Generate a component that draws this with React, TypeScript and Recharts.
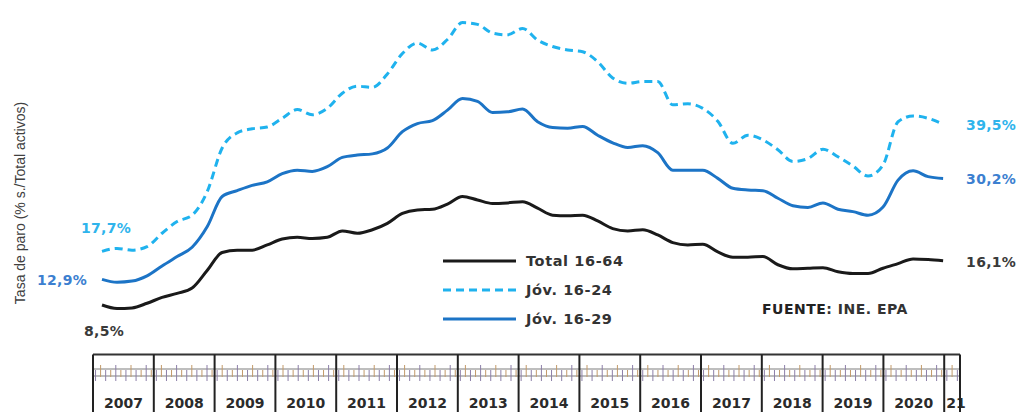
import React from 'react'
import { LineChart, Line, XAxis, YAxis, LabelList } from 'recharts'

// años del eje (el último tramo, 2021, sólo tiene el primer trimestre)
const YEARS = ['2007', '2008', '2009', '2010', '2011', '2012', '2013', '2014', '2015', '2016', '2017', '2018', '2019', '2020', '21']
const QUARTERS = ['T1', 'T2', 'T3', 'T4']

// tasa de paro (% s./total activos), 2007T1 - 2021T1
const TOTAL_16_64 = [
  8.5, 7.9, 8.0, 8.8, 9.8, 10.5, 11.4, 14.4, 17.5, 17.9, 17.9, 18.8, 19.8, 20.1, 19.9, 20.1,
  21.2, 20.8, 21.4, 22.5, 24.2, 24.8, 24.9, 25.8, 27.1, 26.5, 25.9, 26.0, 26.2, 25.1, 23.9, 23.8,
  23.9, 22.9, 21.6, 21.2, 21.4, 20.5, 19.2, 18.8, 18.9, 17.6, 16.7, 16.7, 16.8, 15.4, 14.7, 14.8,
  14.9, 14.2, 13.9, 13.9, 14.8, 15.6, 16.4, 16.3, 16.1
]
const JOV_16_24 = [
  17.7, 18.2, 17.9, 18.5, 20.8, 22.8, 23.9, 27.9, 35.4, 38.0, 38.7, 39.0, 40.5, 42.0, 41.1, 42.2,
  44.8, 46.0, 45.8, 48.1, 51.6, 53.4, 52.2, 54.0, 56.9, 56.6, 55.1, 54.8, 55.9, 53.9, 52.8, 52.2,
  51.9, 50.2, 47.4, 46.5, 46.8, 46.8, 42.8, 43.0, 42.2, 40.0, 36.2, 37.6, 36.8, 35.1, 33.1, 33.6,
  35.2, 33.9, 32.3, 30.6, 32.5, 39.9, 40.9, 40.5, 39.5
]
const JOV_16_29 = [
  12.9, 12.4, 12.6, 13.5, 15.2, 16.8, 18.4, 21.9, 27.1, 28.1, 29.0, 29.6, 31.0, 31.6, 31.4, 32.2,
  33.8, 34.2, 34.4, 35.4, 38.2, 39.6, 40.1, 41.9, 43.9, 43.4, 41.5, 41.6, 42.1, 39.9, 38.9, 38.8,
  39.1, 37.6, 36.3, 35.5, 35.8, 34.6, 31.6, 31.6, 31.6, 30.2, 28.5, 28.2, 28.1, 26.8, 25.5, 25.2,
  26.0, 24.9, 24.5, 23.9, 25.3, 29.9, 31.5, 30.5, 30.2
]

const SERIES = [
  { key: 'total', name: 'Total 16-64', color: '#1a1a1a', label: '#3a3a3a', dash: undefined as string | undefined },
  { key: 'j1624', name: 'Jóv. 16-24', color: '#1fb2ee', label: '#2fb4ec', dash: '8 5' },
  { key: 'j1629', name: 'Jóv. 16-29', color: '#1c74c6', label: '#3c7fd0', dash: undefined }
]

const periods: string[] = []
YEARS.slice(0, -1).forEach(y => QUARTERS.forEach(q => periods.push(`${y}${q}`)))
periods.push('2021T1')

const data = periods.map((p, i) => ({
  i,
  period: p,
  total: TOTAL_16_64[i],
  j1624: JOV_16_24[i],
  j1629: JOV_16_29[i]
}))

// geometría
const W = 1035
const H = 412
const PLOT_LEFT = 93
const PLOT_RIGHT = 960
const AXIS_TOP = 354.6
const FIRST_X = 102
const STEP = 15.02
const X_MIN = (PLOT_LEFT - FIRST_X) / STEP
const X_MAX = (PLOT_RIGHT - FIRST_X) / STEP
const YEAR_SPAN = 4.048
const YEAR_PX = YEAR_SPAN * STEP

const yearTicks = [...YEARS.map((_, k) => X_MIN + YEAR_SPAN * k), X_MAX]

const FONT = '"DejaVu Sans", Verdana, sans-serif'

const YearTick = (props: any) => {
  const { x, index } = props
  const isYear = index < YEARS.length
  const label = YEARS[index]
  const boxW = index === YEARS.length - 1 ? PLOT_RIGHT - x : YEAR_PX
  const months = index === YEARS.length - 1 ? 3 : 12
  return (
    <g>
      {index === 0 && (
        <g>
          <line x1={PLOT_LEFT} x2={PLOT_RIGHT} y1={AXIS_TOP} y2={AXIS_TOP} stroke="#333" strokeWidth={2} />
          <line x1={PLOT_LEFT} x2={PLOT_RIGHT} y1={369} y2={369} stroke="#a8a8a8" strokeWidth={1.5} />
          <line x1={PLOT_LEFT} x2={PLOT_RIGHT} y1={376} y2={376} stroke="#a8a8a8" strokeWidth={1.5} />
        </g>
      )}
      <line x1={x} x2={x} y1={AXIS_TOP} y2={H} stroke="#222" strokeWidth={2} />
      {isYear &&
        Array.from({ length: months }).map((_, m) => {
          const mx = x + ((m + 0.5) * boxW) / months
          return (
            <line
              key={m}
              x1={mx}
              x2={mx}
              y1={m % 3 === 1 ? 365 : 370}
              y2={m % 2 === 0 ? 381 : 377}
              stroke={m % 2 === 0 ? '#8c7fa8' : '#c29a6a'}
              strokeWidth={1}
            />
          )
        })}
      {isYear && (
        <text
          x={index === YEARS.length - 1 ? x + 2 : x + YEAR_PX / 2}
          y={403}
          textAnchor={index === YEARS.length - 1 ? 'start' : 'middle'}
          dominantBaseline="central"
          fontFamily={FONT}
          fontWeight="bold"
          fontSize={14}
          fill="#2b2b2b"
        >
          {label}
        </text>
      )}
    </g>
  )
}

const endLabel = (color: string, start: { dx: number; dy: number; anchor: string }) => (props: any) => {
  const { x, y, index, value } = props
  const last = index === data.length - 1
  if (index !== 0 && !last) return null
  const txt = `${String(value).replace('.', ',')}%`
  return (
    <text
      x={last ? x + 23 : x + start.dx}
      y={last ? y + 1 : y + start.dy}
      textAnchor={last ? 'start' : (start.anchor as any)}
      dominantBaseline="central"
      fontFamily={FONT}
      fontWeight="bold"
      fontSize={14}
      letterSpacing={0.3}
      fill={color}
    >
      {txt}
    </text>
  )
}

const START_POS: Record<string, { dx: number; dy: number; anchor: string }> = {
  total: { dx: 2, dy: 26, anchor: 'middle' },
  j1624: { dx: 4, dy: -23, anchor: 'middle' },
  j1629: { dx: -40, dy: 1, anchor: 'middle' }
}

export default function App() {
  return (
    <div style={{ position: 'relative', left: -8, top: -8, width: W, height: H, background: '#fff' }}>
      <LineChart
        width={W}
        height={H}
        data={data}
        margin={{ top: 4.5, right: W - PLOT_RIGHT, bottom: 0, left: PLOT_LEFT }}
      >
        <XAxis
          dataKey="i"
          type="number"
          domain={[X_MIN, X_MAX]}
          allowDataOverflow
          ticks={yearTicks}
          interval={0}
          tick={<YearTick />}
          axisLine={false}
          tickLine={false}
          height={H - AXIS_TOP}
        />
        <YAxis hide type="number" domain={[0, 60]} allowDataOverflow />
        {SERIES.map(s => (
          <Line
            key={s.key}
            dataKey={s.key}
            name={s.name}
            type="monotone"
            stroke={s.color}
            strokeWidth={3}
            strokeDasharray={s.dash}
            dot={false}
            isAnimationActive={false}
          >
            <LabelList dataKey={s.key} content={endLabel(s.label, START_POS[s.key])} />
          </Line>
        ))}
      </LineChart>

      <svg
        width={W}
        height={H}
        style={{ position: 'absolute', left: 0, top: 0, pointerEvents: 'none' }}
      >
        <text
          transform="translate(20 203) rotate(-90)"
          textAnchor="middle"
          dominantBaseline="central"
          fontFamily='"Liberation Sans", Arial, sans-serif'
          fontSize={14}
          fill="#404040"
        >
          Tasa de paro (% s./Total activos)
        </text>

        {SERIES.map((s, k) => {
          const y = 261 + k * 29
          return (
            <g key={s.key}>
              <line x1={443} x2={516} y1={y} y2={y} stroke={s.color} strokeWidth={3} strokeDasharray={s.dash} />
              <text
                x={526}
                y={y}
                dominantBaseline="central"
                fontFamily={FONT}
                fontWeight="bold"
                fontSize={14.5}
                letterSpacing={0.6}
                fill="#333"
              >
                {s.name}
              </text>
            </g>
          )
        })}

        <text
          x={762}
          y={309}
          dominantBaseline="central"
          fontFamily={FONT}
          fontWeight="bold"
          fontSize={14}
          letterSpacing={0.5}
          fill="#333"
        >
          <tspan fill="#222">FUENTE</tspan>: INE. EPA
        </text>
      </svg>
    </div>
  )
}
